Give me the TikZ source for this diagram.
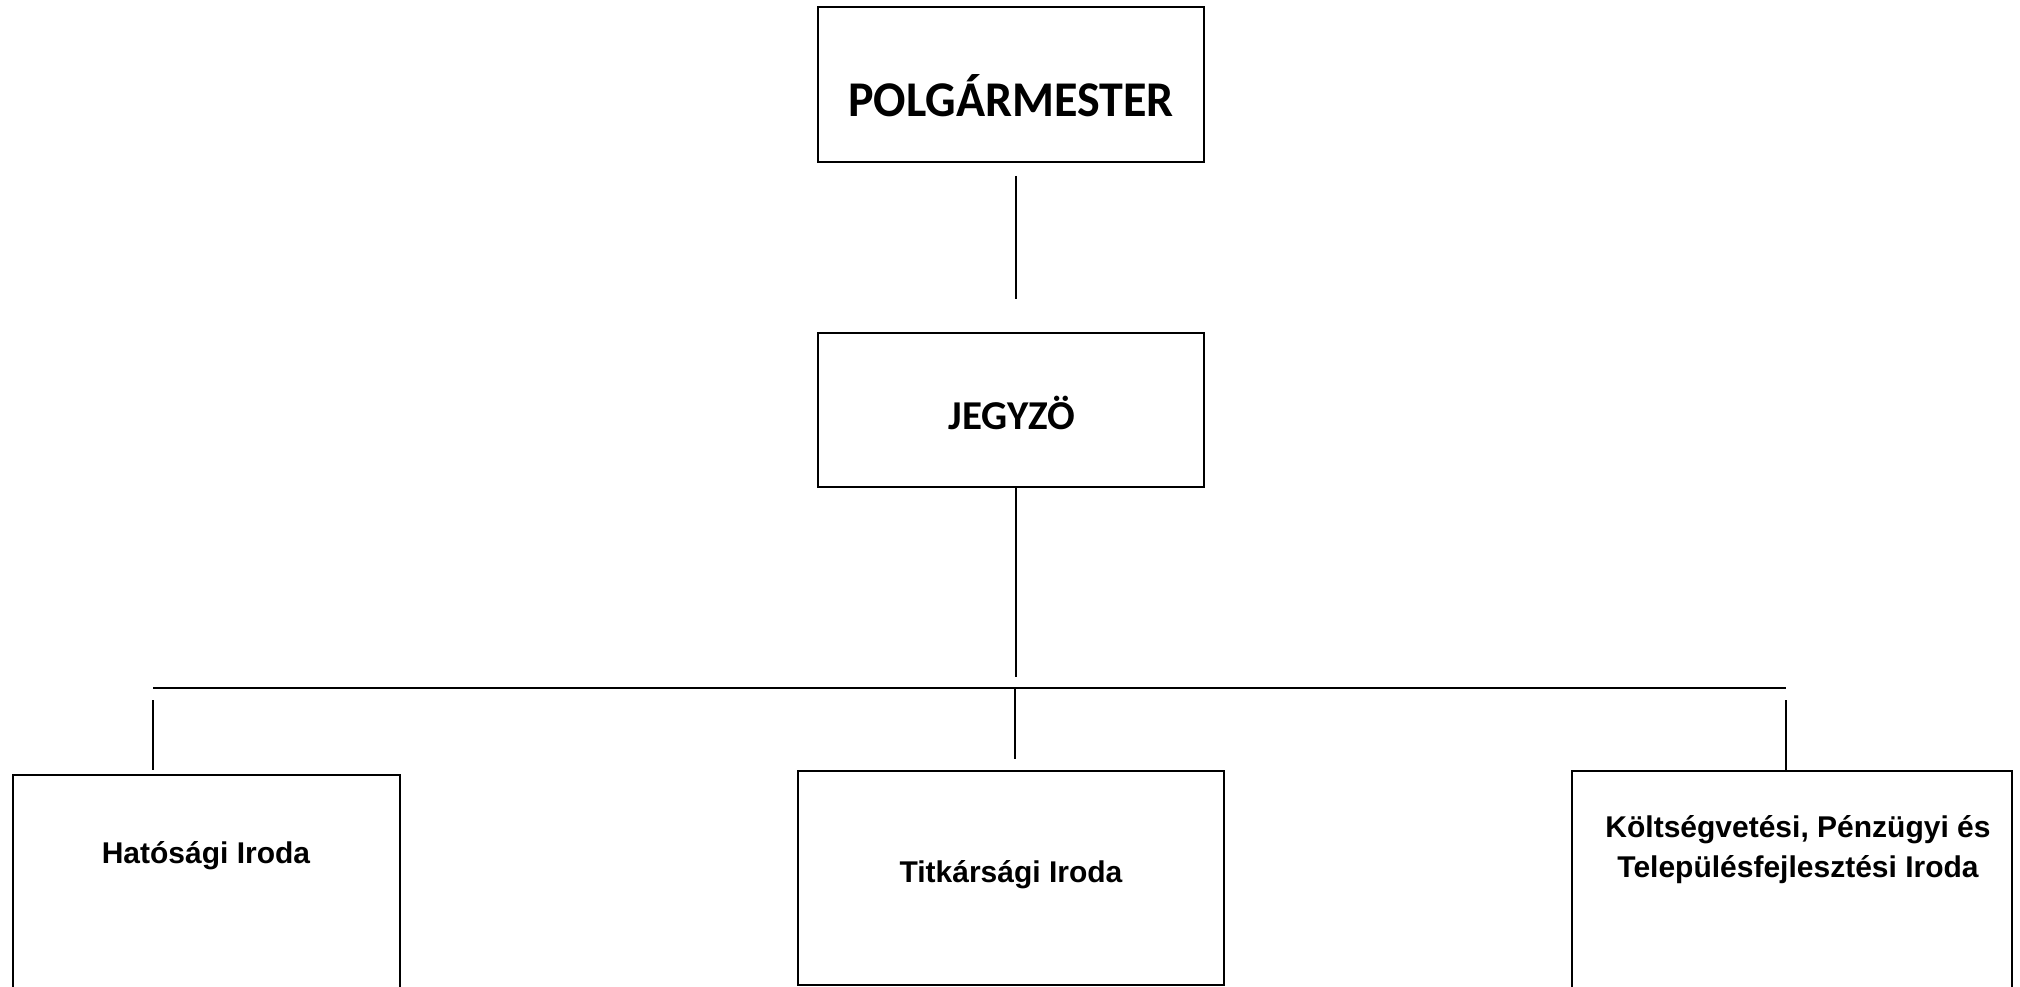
\documentclass[tikz,border=0pt]{standalone}
\usepackage{fontspec}
\newfontfamily\calfont{Carlito}
\newfontfamily\arfont{Liberation Sans}
\begin{document}
\begin{tikzpicture}[x=1pt,y=-1pt,
  box/.style={draw, line width=2pt, inner sep=0pt},
  conn/.style={line width=2pt},
  bus/.style={line width=2.8pt},
  toptext/.style={anchor=base, inner sep=0pt, font=\calfont\bfseries\fontsize{50}{60}\selectfont},
  midtext/.style={anchor=base, inner sep=0pt, font=\calfont\bfseries\fontsize{41}{48}\selectfont},
  lowtext/.style={anchor=base, inner sep=0pt, align=center, font=\arfont\bfseries\fontsize{30}{40}\selectfont}]
\clip (0,0) rectangle (2020,987);
\fill[white] (0,0) rectangle (2020,987);
% boxes
\node[box, minimum width=386pt, minimum height=155pt] (pol) at (1011,84.5) {};
\node[box, minimum width=386pt, minimum height=154pt] (jeg) at (1011,410) {};
\node[box, minimum width=387pt, minimum height=235pt] (hat) at (206.5,892.5) {};
\node[box, minimum width=426pt, minimum height=214pt] (tit) at (1011,878) {};
\node[box, minimum width=440pt, minimum height=239pt] (kol) at (1792,890.5) {};
% texts
\node[toptext] (polt) at (1011,117) {\scalebox{0.96}[1]{POLGÁRMESTER}};
\node[midtext] (jegt) at (1012,429) {JEGYZÖ};
\node[lowtext] (hatt) at (206,863) {Hatósági Iroda};
\node[lowtext] (titt) at (1011,882) {Titkársági Iroda};
\node[lowtext] (kolt) at (1798,877) {Költségvetési, Pénzügyi és\\Településfejlesztési Iroda};
% connectors
\coordinate (busL) at (153,688);
\coordinate (busR) at (1786,688);
\coordinate (busM) at (1015,688);
\draw[conn, shorten <=13pt, shorten >=33pt] ([xshift=5pt]pol.south) -- ([xshift=5pt]jeg.north);
\draw[conn, shorten >=11pt] ([xshift=5pt]jeg.south) -- ([xshift=5pt]jeg.south |- busL);
\draw[bus] (busL) -- (busR);
\draw[conn, shorten <=12pt, shorten >=4pt] (busL) -- (busL |- hat.north);
\draw[conn, shorten >=11pt] (busM) -- (busM |- tit.north);
\draw[conn, shorten <=12pt] (busR) -- (busR |- kol.north);
\end{tikzpicture}
\end{document}
